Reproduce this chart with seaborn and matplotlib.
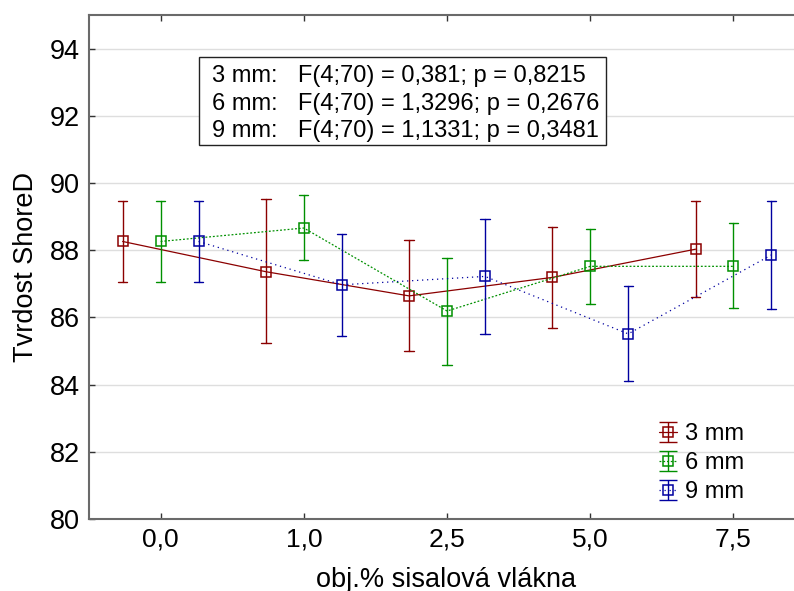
import numpy as np
import pandas as pd
import matplotlib
matplotlib.use("Agg")
import matplotlib.pyplot as plt
import seaborn as sns
from matplotlib.container import ErrorbarContainer
from matplotlib.lines import Line2D
from matplotlib.collections import LineCollection
from matplotlib.legend_handler import HandlerErrorbar
from matplotlib.patches import Rectangle

# ---- data ----
categories = ["0,0", "1,0", "2,5", "5,0", "7,5"]
series = ["3 mm", "6 mm", "9 mm"]

mean_3 = [88.26, 87.36, 86.64, 87.19, 88.03]
low_3 = [87.05, 85.23, 85.00, 85.69, 86.60]
high_3 = [89.46, 89.51, 88.29, 88.69, 89.45]

mean_6 = [88.26, 88.66, 86.19, 87.52, 87.52]
low_6 = [87.05, 87.70, 84.58, 86.41, 86.27]
high_6 = [89.46, 89.65, 87.77, 88.63, 88.81]

mean_9 = [88.26, 86.97, 87.22, 85.51, 87.86]
low_9 = [87.05, 85.46, 85.50, 84.11, 86.24]
high_9 = [89.46, 88.49, 88.93, 86.92, 89.46]

stats_lines = [
    ("3 mm:", "F(4;70) = 0,381; p = 0,8215"),
    ("6 mm:", "F(4;70) = 1,3296; p = 0,2676"),
    ("9 mm:", "F(4;70) = 1,1331; p = 0,3481"),
]

colors = ["#8b0000", "#009000", "#0000a0"]
linestyles = ["-", (0, (1.5, 1.5)), (0, (1, 3))]

# long table: low / mean / high per point -> median = mean, 100% interval = low..high
rows = []
for name, m, lo, hi in [("3 mm", mean_3, low_3, high_3),
                        ("6 mm", mean_6, low_6, high_6),
                        ("9 mm", mean_9, low_9, high_9)]:
    for c, a, b, d in zip(categories, lo, m, hi):
        for v in (a, b, d):
            rows.append({"kat": c, "serie": name, "hodnota": v})
df = pd.DataFrame(rows)

sns.set_style("white")
plt.rcParams["font.family"] = ["Liberation Sans", "DejaVu Sans"]
plt.rcParams["text.color"] = "black"
plt.rcParams["axes.labelcolor"] = "black"
plt.rcParams["xtick.color"] = "black"
plt.rcParams["ytick.color"] = "black"

fig = plt.figure(figsize=(7.94, 5.91), dpi=100)
ax = fig.add_axes([89 / 794, 1 - 519 / 591, 1 - 89 / 794, (519 - 15) / 591])

sns.pointplot(
    data=df, x="kat", y="hodnota", hue="serie",
    order=categories, hue_order=series, palette=colors,
    estimator="median", errorbar=("pi", 100),
    dodge=0.53, markers="s", linestyles=linestyles,
    capsize=0.065, err_kws={"linestyle": "-", "linewidth": 1.0},
    linewidth=0.9, markersize=7.2, markeredgewidth=1.1,
    markerfacecolor="none", legend=False, ax=ax,
)

ax.set_ylim(80, 95)
ax.set_xlim(-0.5, 4.4225)
ax.set_yticks(np.arange(80, 95, 2))
ax.yaxis.grid(True, color="#dedede", linewidth=1.0)
ax.xaxis.grid(False)
ax.set_axisbelow(True)

for s in ["left", "top", "bottom"]:
    ax.spines[s].set_visible(True)
    ax.spines[s].set_color("#6a6a6a")
    ax.spines[s].set_linewidth(1.5)
ax.spines["right"].set_visible(False)

ax.tick_params(axis="x", direction="in", top=True, bottom=True, length=4,
               width=1, color="#333333", labelcolor="black", labelsize=19, pad=6)
ax.tick_params(axis="y", direction="in", left=True, length=4, width=1,
               color="#333333", labelcolor="black", labelsize=19.5, pad=6.5)

ax.set_xlabel("obj.% sisalová vlákna", fontsize=19.5, color="black")
ax.set_ylabel("Tvrdost ShoreD", fontsize=19.5, color="black")
ax.xaxis.set_label_coords(0.5065, -0.095)
ax.yaxis.set_label_coords(-0.071, 0.5)

# legend with errorbar glyphs
handles = []
for name, col, ls in zip(series, colors, linestyles):
    pl = Line2D([], [], color=col, linestyle=ls, linewidth=0.9, marker="s",
                markersize=7.2, markerfacecolor="none", markeredgewidth=1.1)
    cap = Line2D([], [], color=col, marker="_", markersize=13, markeredgewidth=1.0,
                 linestyle="none")
    bars = LineCollection([], colors=col, linewidths=1.0)
    handles.append(ErrorbarContainer((pl, (cap, cap), (bars,)),
                                     has_xerr=False, has_yerr=True, label=name))
leg = ax.legend(handles=handles, labels=series, loc="upper left",
                bbox_to_anchor=((658.5 - 89) / 705, (519 - 423) / 504),
                frameon=False, fontsize=17, handlelength=0.8, handletextpad=0.32,
                labelspacing=0.3, borderpad=0.0, borderaxespad=0.0,
                handler_map={ErrorbarContainer: HandlerErrorbar(yerr_size=0.42, numpoints=1)})
for t in leg.get_texts():
    t.set_color("black")

# statistics box
fig.patches.append(Rectangle((199.3 / 794, 1 - 145 / 591),
                             (606.3 - 199.3) / 794, (145 - 56.7) / 591,
                             transform=fig.transFigure, facecolor="white",
                             edgecolor="#222222", linewidth=1.0, zorder=5))
for (lab, txt), yb in zip(stats_lines, [81.7, 110.0, 137.3]):
    fig.text(211.7 / 794, 1 - yb / 591, lab, fontsize=17, va="baseline",
             ha="left", zorder=6, color="black")
    fig.text(298.3 / 794, 1 - yb / 591, txt, fontsize=17, va="baseline",
             ha="left", zorder=6, color="black")

fig.savefig("out.png", dpi=100)
